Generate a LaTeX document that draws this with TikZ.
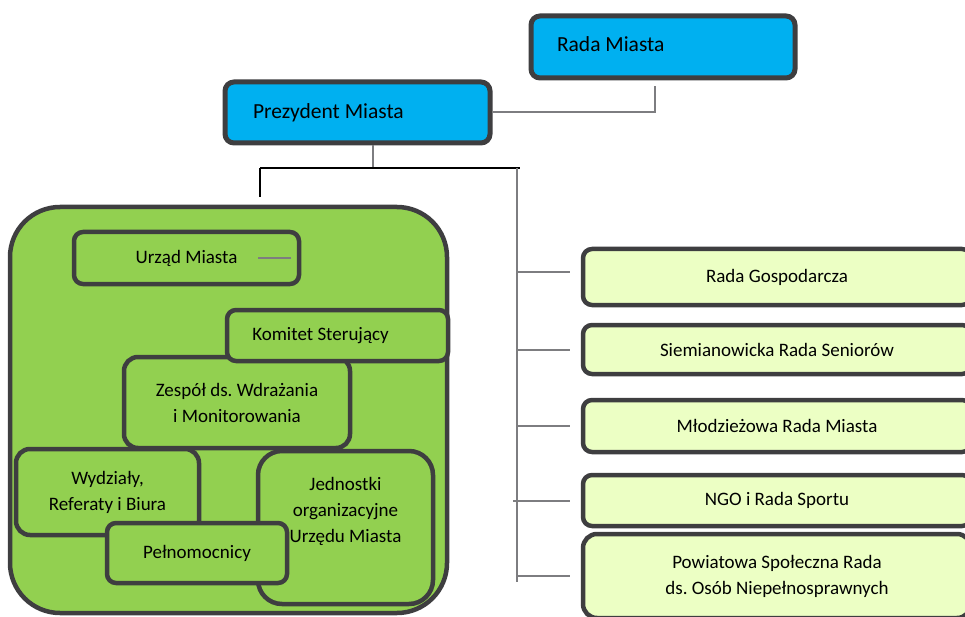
\documentclass[tikz,border=0pt]{standalone}
\usepackage{fontspec}
\setmainfont{Carlito}
\frenchspacing
\definecolor{sky}{RGB}{0,176,240}
\definecolor{leaf}{RGB}{146,208,80}
\definecolor{pale}{RGB}{236,255,196}
\definecolor{edge}{RGB}{62,62,64}
\definecolor{linegray}{RGB}{125,125,128}
\begin{document}
\begin{tikzpicture}
  [x=1pt,y=-1pt,
   every node/.style={rectangle,rounded corners=9pt,draw=edge,line width=4.5pt,
     font=\fontsize{19}{26}\selectfont,align=center,inner sep=0pt},
   topbox/.style={fill=sky,line width=5pt,font=\fontsize{21.5}{26}\selectfont},
   greenbox/.style={fill=leaf},
   sidebox/.style={fill=pale,minimum width=388pt},
   link/.style={draw=linegray,line width=2pt}]
  \useasboundingbox (0,0) rectangle (965,617);
  \clip (0,0) rectangle (965,617);

  \node[topbox,minimum width=264pt,minimum height=62pt] (a1) at (663,47) {\raisebox{5pt}{\makebox[212pt][l]{Rada Miasta}}};
  \node[topbox,minimum width=265pt,minimum height=61pt] (a2) at (357.5,112.5) {\raisebox{3pt}{\makebox[209pt][l]{Prezydent Miasta}}};

  \node[greenbox,rounded corners=50pt,minimum width=437pt,minimum height=406pt] (g0) at (228.5,410) {};
  \node[greenbox,minimum width=225pt,minimum height=52pt] (a3) at (186.5,258) {Urząd Miasta};
  \node[greenbox,rounded corners=14pt,minimum width=226pt,minimum height=91pt] (a5) at (237,402.5) {Zespół ds. Wdrażania\\i Monitorowania};
  \node[greenbox,minimum width=221pt,minimum height=51pt] (a4) at (337.5,335.5) {\hspace*{-34pt}Komitet Sterujący};
  \node[greenbox,rounded corners=14pt,minimum width=183pt,minimum height=86pt] (a6) at (107.5,492) {Wydziały,\\Referaty i Biura};
  \node[greenbox,rounded corners=24pt,minimum width=175pt,minimum height=153pt] (a7) at (345.5,527.5)
    {\raisebox{68pt}{\begin{tabular}{@{}c@{}}Jednostki\\organizacyjne\\Urzędu Miasta\end{tabular}}};
  \node[greenbox,minimum width=180pt,minimum height=60pt] (a8) at (197,553) {Pełnomocnicy};

  \node[sidebox,minimum height=56pt] (r1) at (777,277) {Rada Gospodarcza};
  \node[sidebox,minimum height=49pt] (r2) at (777,349.5) {Siemianowicka Rada Seniorów};
  \node[sidebox,minimum height=52pt] (r3) at (777,426) {Młodzieżowa Rada Miasta};
  \node[sidebox,minimum height=51pt] (r4) at (777,500.5) {NGO i Rada Sportu};
  \node[sidebox,rounded corners=14pt,minimum height=84pt] (r5) at (777,576) {Powiatowa Społeczna Rada\\ds. Osób Niepełnosprawnych};

  \coordinate (c1) at (373,168);
  \coordinate (c3) at (655,86);
  \coordinate (t1) at (260,168);
  \coordinate (t2) at (520,168);
  \coordinate (d1) at (260,197);
  \coordinate (s1) at (517,168);
  \coordinate (s2) at (517,582);

  \draw[link] (a2.east) -| (c3);
  \draw[link] (a2.south -| c1) -- (c1);
  \draw[line width=2pt] (t1) -- (t2);
  \draw[line width=1.2pt] (t1) -- (d1);
  \draw[link] (s1) -- (s2);
  \draw[link] ([yshift=5pt]r1.west -| s1) -- ([xshift=-11pt,yshift=5pt]r1.west);
  \draw[link] (r2.west -| s1) -- ([xshift=-11pt]r2.west);
  \draw[link] (r3.west -| s1) -- ([xshift=-11pt]r3.west);
  \draw[link] ([xshift=-4pt]r4.west -| s1) -- ([xshift=-11pt]r4.west);
  \draw[link] (r5.west -| s1) -- ([xshift=-11pt]r5.west);
  \draw[link] ([xshift=-10pt]a3.east) -- ([xshift=-43pt]a3.east);
\end{tikzpicture}
\end{document}
